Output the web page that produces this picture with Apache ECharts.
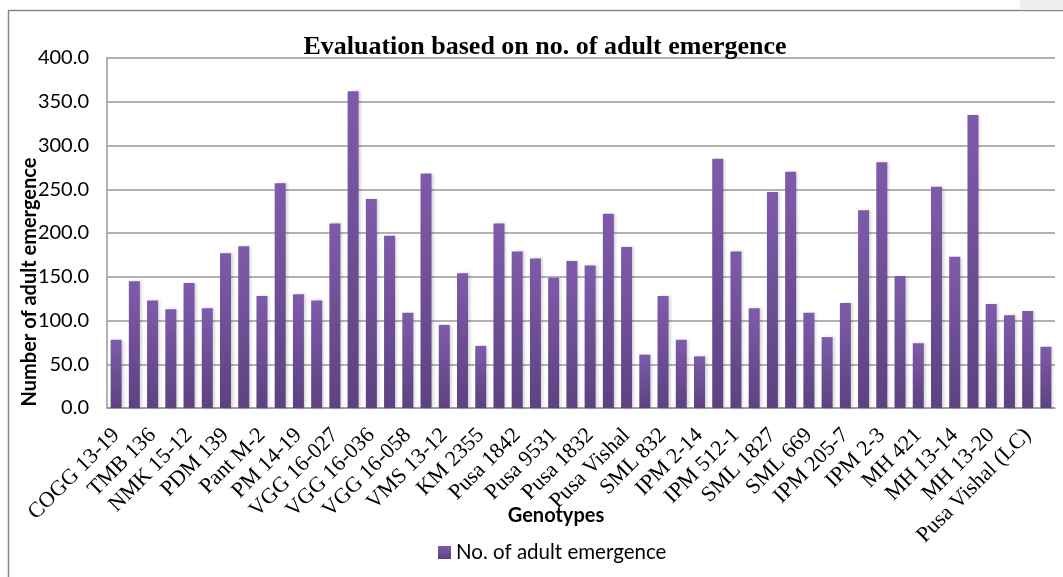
<!DOCTYPE html>
<html><head><meta charset="utf-8">
<script src="https://cdn.jsdelivr.net/npm/echarts@6/dist/echarts.min.js"></script>
<style>html,body{margin:0;padding:0;background:#fff}#c{width:1063px;height:577px}</style>
</head><body><div id="c"></div>
<script>
const genotypeLabels = ['COGG 13-19','TMB 136','NMK 15-12','PDM 139','Pant M-2','PM 14-19','VGG 16-027','VGG 16-036','VGG 16-058','VMS 13-12','KM 2355','Pusa 1842','Pusa 9531','Pusa 1832','Pusa Vishal','SML 832','IPM 2-14','IPM 512-1','SML 1827','SML 669','IPM 205-7','IPM 2-3','MH 421','MH 13-14','MH 13-20','Pusa Vishal (LC)'];
const adultEmergence = [78,145,123,113,143,114,177,185,128,257,130,123,211,362,239,197,109,268,95,154,71,211,179,171,149,168,163,222,184,61,128,78,59,285,179,114,247,270,109,81,120,226,281,151,74,253,173,335,119,106,111,70];
const yTicks = [0,50,100,150,200,250,300,350,400];

const chart = echarts.init(document.getElementById('c'));
chart.setOption({
  animation:false,
  title:{text:'Evaluation based on no. of adult emergence',left:540,top:29,textAlign:'center',
    textStyle:{fontFamily:'Liberation Serif',fontWeight:'bold',fontSize:26,color:'#000'}},
  legend:{data:['No. of adult emergence'],left:433,top:537,itemWidth:13,itemHeight:13,icon:'rect',
    textStyle:{fontFamily:'Lato',fontSize:20.5,color:'#000'}},
  grid:{left:107,right:8,top:58,bottom:169},
  xAxis:{type:'category',data:adultEmergence.map((v,i)=>String(i)),
    axisLine:{lineStyle:{color:'#999',width:1.5}},axisTick:{show:false},
    axisLabel:{interval:0,rotate:45,fontFamily:'Liberation Serif',fontSize:22,color:'#000',margin:24,
      formatter:(v,i)=> i%2===0 ? genotypeLabels[i/2] : ''}},
  yAxis:{type:'value',min:yTicks[0],max:yTicks[yTicks.length-1],interval:50,
    axisLine:{show:true,lineStyle:{color:'#999',width:1.5}},axisTick:{show:false},
    splitLine:{lineStyle:{color:'#999',width:1.5}},
    axisLabel:{fontFamily:'Lato',fontSize:20,color:'#000',margin:18,formatter:v=>v.toFixed(1)}},
  series:[{name:'No. of adult emergence',type:'bar',barWidth:11,data:adultEmergence,
    itemStyle:{color:new echarts.graphic.LinearGradient(0,0,0,1,[{offset:0,color:'#7E5BAA'},{offset:1,color:'#5D4281'}]),
      shadowColor:'rgba(0,0,0,0.18)',shadowBlur:3,shadowOffsetX:2}}],
  graphic:[
    {type:'rect',shape:{x:8.5,y:10.5,width:1070,height:600},style:{fill:'none',stroke:'#888',lineWidth:1.5},silent:true},
    {type:'rect',shape:{x:1020,y:0,width:43,height:10},style:{fill:'#eee'},silent:true},
    {type:'text',x:30,y:282,rotation:Math.PI/2,silent:true,
      style:{text:'Number of adult emergence',fontFamily:'Lato',fontWeight:'bold',fontSize:20,fill:'#000',align:'center',verticalAlign:'middle'}},
    {type:'text',x:556,y:516,silent:true,
      style:{text:'Genotypes',fontFamily:'Lato',fontWeight:'bold',fontSize:20,fill:'#000',align:'center',verticalAlign:'middle'}}
  ]
});
</script></body></html>
